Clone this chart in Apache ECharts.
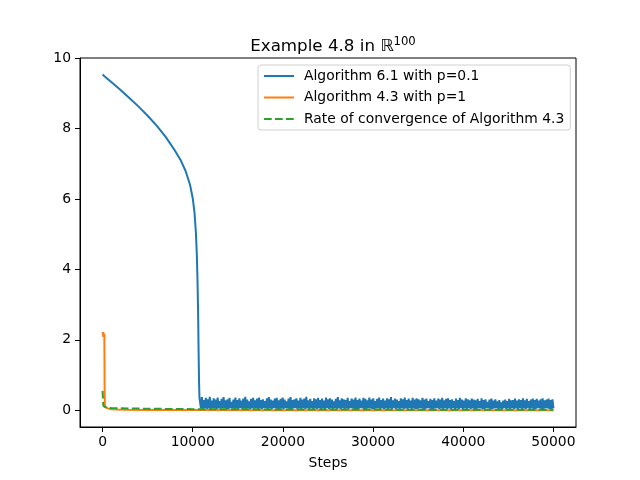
<!DOCTYPE html>
<html>
<head>
<meta charset="utf-8">
<script src="https://cdn.jsdelivr.net/npm/echarts@6/dist/echarts.min.js"></script>
<style>html,body{margin:0;padding:0;background:#fff;}#c{width:640px;height:480px;}</style>
</head>
<body>
<div id="c"></div>
<script>
// ---- data ----
var xTicks = [0, 10000, 20000, 30000, 40000, 50000];
var yTicks = [0, 2, 4, 6, 8, 10];

// Algorithm 6.1 with p=0.1 : smooth decay part
var blueSteps = [0, 500, 1000, 2000, 3000, 4000, 5000, 6000, 7000, 8000, 8700, 9200, 9700, 10000, 10200, 10350, 10450, 10530, 10600, 10650, 10700, 10750];
var blueVals  = [9.53, 9.42, 9.31, 9.09, 8.86, 8.62, 8.36, 8.08, 7.76, 7.38, 7.08, 6.80, 6.40, 6.02, 5.60, 5.05, 4.45, 3.70, 2.70, 1.70, 0.80, 0.35];
// Algorithm 6.1 : oscillating part (steps 10800 .. 50000)
var blueNoiseStart = 10800;
var blueNoiseEnd = 50000;
var blueNoise = [
0.33,0.05,0.37,0.04,0.29,0.06,0.35,0.03,0.31,0.05,0.38,0.04,0.27,0.06,0.34,0.05,0.30,0.03,0.36,0.05,
0.26,0.04,0.32,0.06,0.37,0.05,0.28,0.04,0.31,0.03,0.35,0.06,0.24,0.05,0.30,0.04,0.36,0.05,0.29,0.03,
0.34,0.06,0.27,0.04,0.33,0.05,0.38,0.03,0.30,0.06,0.25,0.04,0.32,0.05,0.35,0.04,0.28,0.06,0.33,0.03,
0.36,0.05,0.29,0.04,0.31,0.06,0.26,0.05,0.34,0.03,0.37,0.05,0.30,0.04,0.27,0.06,0.33,0.05,0.35,0.04,
0.28,0.03,0.32,0.05,0.36,0.04,0.30,0.06,0.25,0.05,0.33,0.04,0.37,0.03,0.29,0.05,0.31,0.06,0.34,0.04,
0.27,0.05,0.35,0.03,0.30,0.06,0.33,0.04,0.38,0.05,0.28,0.03,0.32,0.06,0.26,0.04,0.34,0.05,0.31,0.03,
0.35,0.06,0.29,0.04,0.33,0.05,0.27,0.03,0.36,0.06,0.31,0.04,0.34,0.05,0.30,0.03,0.25,0.06,0.32,0.04,
0.37,0.05,0.28,0.04,0.34,0.06,0.31,0.03,0.29,0.05,0.35,0.04,0.26,0.06,0.33,0.05,0.30,0.04,0.36,0.03,
0.29,0.04,0.33,0.06,0.27,0.05,0.35,0.03,0.32,0.04,0.28,0.06,0.36,0.05,0.30,0.04,0.34,0.03,0.26,0.05,
0.32,0.06,0.36,0.04,0.29,0.05,0.33,0.03,0.27,0.06,0.34,0.04,0.31,0.05,0.37,0.03,0.28,0.06,0.33,0.04,
0.30,0.05,0.26,0.03,0.34,0.06,0.31,0.04,0.36,0.05,0.29,0.03,0.33,0.06,0.27,0.04,0.35,0.05,0.30,0.03,
0.34,0.04,0.31,0.06,0.28,0.05,0.35,0.03,0.30,0.04,0.33,0.06,0.26,0.05,0.32,0.04,0.29,0.03,0.34,0.05,
0.27,0.06,0.33,0.04,0.30,0.05,0.35,0.03,0.28,0.06,0.32,0.04,0.34,0.05,0.29,0.03,0.31,0.06,0.26,0.04,
0.33,0.05,0.29,0.03,0.35,0.06,0.30,0.04,0.27,0.05,0.34,0.03,0.31,0.06,0.28,0.04,0.33,0.05,0.30,0.03,
0.28,0.04,0.32,0.06,0.26,0.05,0.34,0.03,0.29,0.04,0.31,0.06,0.24,0.05,0.30,0.04,0.33,0.03,0.27,0.05,
0.31,0.06,0.25,0.04,0.29,0.05,0.22,0.03,0.27,0.06,0.30,0.04,0.26,0.05,0.32,0.03,0.28,0.06,0.29,0.04,
0.33,0.05,0.27,0.03,0.31,0.06,0.29,0.04,0.34,0.05,0.28,0.03,0.32,0.06,0.26,0.04,0.30,0.05,0.33,0.03,
0.29,0.04,0.32,0.06,0.27,0.05,0.31,0.03,0.34,0.04,0.28,0.06,0.30,0.05,0.33,0.04,0.29,0.03,0.31,0.05
];

// Algorithm 4.3 with p=1
var orangeSteps = [0, 40, 80, 120, 160, 200, 230, 260, 300, 400, 600, 1000, 1500, 2500, 5000, 10000, 20000, 50000];
var orangeVals  = [2.15, 2.22, 2.08, 2.20, 2.10, 2.16, 0.60, 0.15, 0.09, 0.07, 0.05, 0.03, 0.02, 0.012, 0.008, 0.005, 0.003, 0.002];

// Rate of convergence of Algorithm 4.3
var greenSteps = [0, 30, 60, 100, 150, 250, 500, 1000, 3000, 6000, 10000, 20000, 35000, 50000];
var greenVals  = [0.55, 0.40, 0.22, 0.12, 0.10, 0.09, 0.07, 0.06, 0.05, 0.04, 0.03, 0.022, 0.016, 0.012];

var names = ['Algorithm 6.1 with p=0.1', 'Algorithm 4.3 with p=1', 'Rate of convergence of Algorithm 4.3'];

// ---- build ----
function pairs(xs, ys) { return xs.map(function (x, i) { return [x, ys[i]]; }); }
var blueData = pairs(blueSteps, blueVals);
var nStep = (blueNoiseEnd - blueNoiseStart) / (blueNoise.length - 1);
blueNoise.forEach(function (v, i) { blueData.push([blueNoiseStart + i * nStep, v]); });

var FONT = 'DejaVu Sans';
var plain = function (v) { return String(v); };
var chart = echarts.init(document.getElementById('c'));
chart.setOption({
  animation: false,
  backgroundColor: '#fff',
  textStyle: { fontFamily: FONT, color: '#000' },
  title: {
    text: '{a|Example 4.8 in }{b|ℝ}{c|100}',
    left: 328, top: 31, textAlign: 'center',
    textStyle: {
      fontWeight: 'normal',
      rich: {
        a: { fontFamily: FONT, fontSize: 16.7, fontWeight: 'normal', color: '#000' },
        b: { fontFamily: FONT, fontSize: 16.7, fontWeight: 'normal', color: '#000' },
        c: { fontFamily: FONT, fontSize: 11.7, fontWeight: 'normal', color: '#000', padding: [0, 0, 9, 0] }
      }
    }
  },
  grid: { left: 80, right: 64, top: 58, bottom: 53, show: true, borderColor: '#000', borderWidth: 1, backgroundColor: 'transparent' },
  legend: {
    data: names,
    orient: 'vertical',
    left: 258, top: 65,
    padding: [4, 6, 4, 5],
    itemWidth: 30, itemHeight: 14, itemGap: 7.5,
    borderColor: '#d0d0d0', borderWidth: 1, borderRadius: 3,
    backgroundColor: 'rgba(255,255,255,0.8)',
    itemStyle: { opacity: 0 },
    textStyle: { fontFamily: FONT, fontSize: 13.9, color: '#000', padding: [0, 0, 0, 5] }
  },
  xAxis: {
    type: 'value', min: -2500, max: 52500,
    name: 'Steps', nameLocation: 'middle', nameGap: 29,
    nameTextStyle: { fontFamily: FONT, fontSize: 13.9, color: '#000' },
    axisLine: { show: true, onZero: false, lineStyle: { color: '#000', width: 1 } },
    axisTick: { show: true, inside: false, length: 5, customValues: xTicks, lineStyle: { color: '#000' } },
    axisLabel: { fontFamily: FONT, fontSize: 13.9, color: '#000', margin: 8, customValues: xTicks, formatter: plain },
    splitLine: { show: false }
  },
  yAxis: {
    type: 'value', min: -0.476, max: 10,
    axisLine: { show: true, onZero: false, lineStyle: { color: '#000', width: 1 } },
    axisTick: { show: true, inside: false, length: 5, customValues: yTicks, lineStyle: { color: '#000' } },
    axisLabel: { fontFamily: FONT, fontSize: 13.9, color: '#000', margin: 9, customValues: yTicks, formatter: plain },
    splitLine: { show: false }
  },
  series: [
    { name: names[0], type: 'line', data: blueData, showSymbol: false, symbol: 'none', sampling: null,
      lineStyle: { color: '#1f77b4', width: 2 }, itemStyle: { color: '#1f77b4' } },
    { name: names[1], type: 'line', data: pairs(orangeSteps, orangeVals), showSymbol: false, symbol: 'none',
      lineStyle: { color: '#ff7f0e', width: 2 }, itemStyle: { color: '#ff7f0e' } },
    { name: names[2], type: 'line', data: pairs(greenSteps, greenVals), showSymbol: false, symbol: 'none',
      lineStyle: { color: '#2ca02c', width: 2, type: [7.7, 3.3] }, itemStyle: { color: '#2ca02c' } }
  ]
});
</script>
</body>
</html>
